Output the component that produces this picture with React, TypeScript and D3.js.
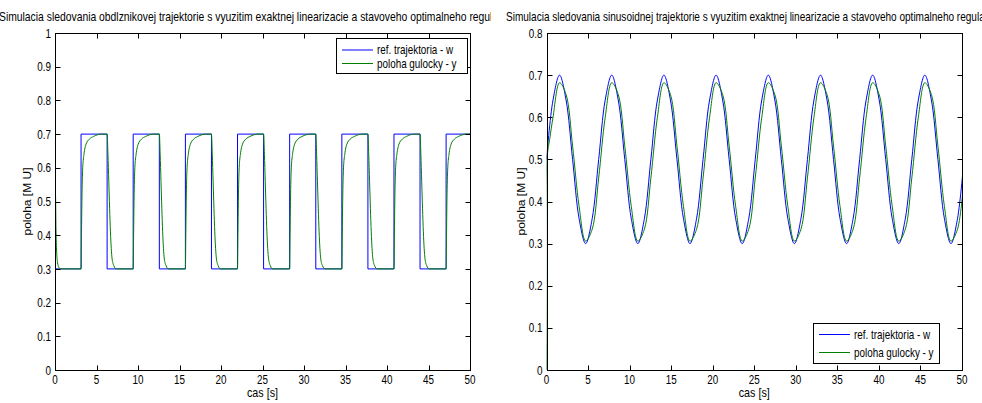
import * as d3 from "d3";
import { useEffect, useRef } from "react";

const FONT = "'Liberation Sans', Arial, sans-serif";
const SX = 0.76; // glyphs in the picture are narrow (figure was stretched vertically)
const BLUE = "#0000ff";
const GREEN = "#008000";

const titleSquare =
  "Simulacia sledovania obdlznikovej trajektorie s vyuzitim exaktnej linearizacie a stavoveho optimalneho regulatora";
const titleSine =
  "Simulacia sledovania sinusoidnej trajektorie s vyuzitim exaktnej linearizacie a stavoveho optimalneho regulatora";
const legendLabels = ["ref. trajektoria - w", "poloha gulocky - y"];
const xLabel = "cas [s]";
const yLabel = "poloha [M U]";

const xTicks = [0, 5, 10, 15, 20, 25, 30, 35, 40, 45, 50];
const yTicksSquare = [0, 0.1, 0.2, 0.3, 0.4, 0.5, 0.6, 0.7, 0.8, 0.9, 1];
const yTicksSine = [0, 0.1, 0.2, 0.3, 0.4, 0.5, 0.6, 0.7, 0.8];
const yLabelsSquare = ["0", "0.1", "0.2", "0.3", "0.4", "0.5", "0.6", "0.7", "0.8", "0.9", "1"];
const yLabelsSine = ["0", "0.1", "0.2", "0.3", "0.4", "0.5", "0.6", "0.7", "0.8"];

// square reference: switching times [s] and the level that starts there
const stepTimes = [0, 3.14, 6.28, 9.42, 12.57, 15.71, 18.85, 21.99, 25.13, 28.27, 31.42, 34.56, 37.7, 40.84, 43.98, 47.12, 50];
const stepLevels = [0.3, 0.7, 0.3, 0.7, 0.3, 0.7, 0.3, 0.7, 0.3, 0.7, 0.3, 0.7, 0.3, 0.7, 0.3, 0.7, 0.7];

// ball position for the square reference: start transient, then the response read after each switch
const startT = [0, 0.06, 0.12, 0.2, 0.3, 0.45, 0.7];
const startY = [0, 0.52, 0.42, 0.35, 0.32, 0.305, 0.3];
const riseDt = [0, 0.05, 0.1, 0.2, 0.35, 0.6, 1.0, 1.5, 2.5];
const riseY = [0.3, 0.4, 0.5, 0.6, 0.64, 0.67, 0.685, 0.693, 0.7];
const fallDt = [0, 0.1, 0.2, 0.3, 0.4, 0.5, 0.6, 0.8, 1.1];
const fallY = [0.7, 0.64, 0.56, 0.48, 0.41, 0.36, 0.33, 0.31, 0.3];

// sinusoidal reference, sampled every 0.785 s
const sineStep = 0.785;
const sineRef = [
  0.5, 0.641, 0.7, 0.641, 0.5, 0.359, 0.3, 0.359,
  0.5, 0.641, 0.7, 0.641, 0.5, 0.359, 0.3, 0.359,
  0.5, 0.641, 0.7, 0.641, 0.5, 0.359, 0.3, 0.359,
  0.5, 0.641, 0.7, 0.641, 0.5, 0.359, 0.3, 0.359,
  0.5, 0.641, 0.7, 0.641, 0.5, 0.359, 0.3, 0.359,
  0.5, 0.641, 0.7, 0.641, 0.5, 0.359, 0.3, 0.359,
  0.5, 0.641, 0.7, 0.641, 0.5, 0.359, 0.3, 0.359,
  0.5, 0.641, 0.7, 0.641, 0.5, 0.359, 0.3, 0.359,
  0.5,
];
// ball position for the sine: first fast rise, then samples on the same grid (from the 2nd sample)
const sineHeadT = [0, 0.05, 0.4];
const sineHeadY = [0, 0.5, 0.55];
const sineBall = [
  0.6, 0.682, 0.654, 0.532, 0.388, 0.306, 0.334, 0.456,
  0.6, 0.682, 0.654, 0.532, 0.388, 0.306, 0.334, 0.456,
  0.6, 0.682, 0.654, 0.532, 0.388, 0.306, 0.334, 0.456,
  0.6, 0.682, 0.654, 0.532, 0.388, 0.306, 0.334, 0.456,
  0.6, 0.682, 0.654, 0.532, 0.388, 0.306, 0.334, 0.456,
  0.6, 0.682, 0.654, 0.532, 0.388, 0.306, 0.334, 0.456,
  0.6, 0.682, 0.654, 0.532, 0.388, 0.306, 0.334, 0.456,
  0.6, 0.682, 0.654, 0.532, 0.388, 0.306, 0.334, 0.456,
];

type Pt = [number, number];

function squareRefPoints(): Pt[] {
  return stepTimes.map((t, i) => [t, stepLevels[i]] as Pt);
}

function squareBallPoints(): Pt[] {
  const pts: Pt[] = startT.map((t, i) => [t, startY[i]] as Pt);
  for (let i = 1; i < stepTimes.length - 1; i++) {
    const up = stepLevels[i] > stepLevels[i - 1];
    const dts = up ? riseDt : fallDt;
    const ys = up ? riseY : fallY;
    dts.forEach((d, j) => pts.push([stepTimes[i] + d, ys[j]]));
  }
  pts.push([50, 0.7]);
  return pts;
}

function sineRefPoints(): Pt[] {
  return sineRef.map((v, i) => [i * sineStep, v] as Pt);
}

function sineBallPoints(): Pt[] {
  const pts: Pt[] = sineHeadT.map((t, i) => [t, sineHeadY[i]] as Pt);
  sineBall.forEach((v, i) => pts.push([(i + 1) * sineStep, v]));
  return pts;
}

function narrowText(g: any, x: number, y: number, txt: string, anchor: string, size = 13) {
  g.append("text")
    .attr("transform", `translate(${x},${y}) scale(${SX},1)`)
    .attr("text-anchor", anchor)
    .attr("font-size", size)
    .attr("font-family", FONT)
    .attr("fill", "#000")
    .text(txt);
}

function App() {
  const svgRef = useRef(null);

  useEffect(() => {
    const svg = d3.select(svgRef.current);
    svg.selectAll("*").remove();

    const panels = [
      {
        id: "sq", left: 55, right: 470, top: 33, bottom: 370, yMax: 1,
        yTicks: yTicksSquare, yLabels: yLabelsSquare,
        series: [
          { pts: squareRefPoints(), color: BLUE, curve: d3.curveStepAfter },
          { pts: squareBallPoints(), color: GREEN, curve: d3.curveMonotoneX },
        ],
        legend: { x: 336, y: 38, w: 131, h: 35, rows: [49.5, 63] },
        ylabX: 31,
      },
      {
        id: "sin", left: 546.5, right: 962, top: 33, bottom: 370, yMax: 0.8,
        yTicks: yTicksSine, yLabels: yLabelsSine,
        series: [
          { pts: sineRefPoints(), color: BLUE, curve: d3.curveCatmullRom.alpha(0.5) },
          { pts: sineBallPoints(), color: GREEN, curve: d3.curveCatmullRom.alpha(0.5) },
        ],
        legend: { x: 813, y: 323, w: 126, h: 40, rows: [334, 352] },
        ylabX: 525,
      },
    ];

    // titles (left one is cut where the right figure starts)
    svg.append("clipPath").attr("id", "clipTitle").append("rect")
      .attr("x", 0).attr("y", 0).attr("width", 491).attr("height", 30);
    svg.append("text")
      .attr("x", -1).attr("y", 21)
      .attr("clip-path", "url(#clipTitle)")
      .attr("font-size", 13).attr("font-family", FONT)
      .attr("textLength", 517).attr("lengthAdjust", "spacingAndGlyphs")
      .text(titleSquare);
    svg.append("text")
      .attr("x", 506).attr("y", 21)
      .attr("font-size", 13).attr("font-family", FONT)
      .attr("textLength", 496).attr("lengthAdjust", "spacingAndGlyphs")
      .text(titleSine);

    panels.forEach((p) => {
      const x = d3.scaleLinear().domain([0, 50]).range([p.left, p.right]);
      const y = d3.scaleLinear().domain([0, p.yMax]).range([p.bottom, p.top]);
      const g = svg.append("g");

      g.append("clipPath").attr("id", "clip-" + p.id).append("rect")
        .attr("x", p.left).attr("y", p.top)
        .attr("width", p.right - p.left).attr("height", p.bottom - p.top);

      const line = d3.line<Pt>().x((d) => x(d[0])).y((d) => y(d[1]));
      p.series.forEach((s) => {
        g.append("path")
          .attr("clip-path", `url(#clip-${p.id})`)
          .attr("d", line.curve(s.curve)(s.pts))
          .attr("fill", "none")
          .attr("stroke", s.color)
          .attr("stroke-width", 1);
      });

      // MATLAB style box with inward ticks on all four sides
      const L = Math.round(p.left) + 0.5, R = Math.round(p.right) + 0.5;
      const T = Math.round(p.top) + 0.5, B = Math.round(p.bottom) + 0.5;
      g.append("rect").attr("x", L).attr("y", T).attr("width", R - L).attr("height", B - T)
        .attr("fill", "none").attr("stroke", "#000").attr("stroke-width", 1);

      xTicks.forEach((t) => {
        const xx = Math.round(x(t)) + 0.5;
        g.append("line").attr("x1", xx).attr("x2", xx).attr("y1", B).attr("y2", B - 5).attr("stroke", "#000");
        g.append("line").attr("x1", xx).attr("x2", xx).attr("y1", T).attr("y2", T + 5).attr("stroke", "#000");
        narrowText(g, x(t), p.bottom + 13.5, String(t), "middle");
      });
      p.yTicks.forEach((t, i) => {
        const yy = Math.round(y(t)) + 0.5;
        g.append("line").attr("x1", L).attr("x2", L + 5).attr("y1", yy).attr("y2", yy).attr("stroke", "#000");
        g.append("line").attr("x1", R).attr("x2", R - 5).attr("y1", yy).attr("y2", yy).attr("stroke", "#000");
        narrowText(g, p.left - 4, y(t) + 4.6, p.yLabels[i], "end");
      });

      g.append("text")
        .attr("x", (p.left + p.right) / 2).attr("y", 397)
        .attr("text-anchor", "middle")
        .attr("font-size", 13).attr("font-family", FONT)
        .attr("textLength", 31).attr("lengthAdjust", "spacingAndGlyphs")
        .text(xLabel);

      g.append("text")
        .attr("transform", `translate(${p.ylabX},${(p.top + p.bottom) / 2}) rotate(-90)`)
        .attr("text-anchor", "middle")
        .attr("font-size", 10).attr("font-family", FONT)
        .attr("textLength", 68).attr("lengthAdjust", "spacingAndGlyphs")
        .text(yLabel);

      // legend
      const lg = p.legend;
      g.append("rect")
        .attr("x", lg.x + 0.5).attr("y", lg.y + 0.5).attr("width", lg.w).attr("height", lg.h)
        .attr("fill", "#fff").attr("stroke", "#000").attr("stroke-width", 1);
      lg.rows.forEach((ry, i) => {
        g.append("line")
          .attr("x1", lg.x + 6).attr("x2", lg.x + 37)
          .attr("y1", ry + 0.5).attr("y2", ry + 0.5)
          .attr("stroke", p.series[i].color).attr("stroke-width", 1);
        narrowText(g, lg.x + 41, ry + 4.6, legendLabels[i], "start");
      });
    });
  }, []);

  return (
    <svg
      ref={svgRef}
      width={982}
      height={403}
      style={{ position: "absolute", left: 0, top: 0, background: "#fff" }}
    />
  );
}

export default App;
